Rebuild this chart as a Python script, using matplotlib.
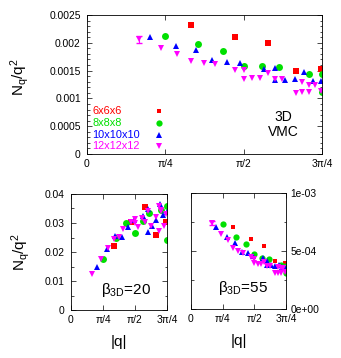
import matplotlib
matplotlib.use("Agg")
import matplotlib.pyplot as plt
from matplotlib.ticker import FixedLocator, MultipleLocator
import numpy as np

plt.rcParams['font.family'] = ['Liberation Sans', 'DejaVu Sans']
plt.rcParams['mathtext.fontset'] = 'custom'
plt.rcParams['mathtext.rm'] = 'Liberation Sans'
plt.rcParams['mathtext.it'] = 'Liberation Sans'
plt.rcParams['mathtext.default'] = 'regular'

# |q| values for each lattice size
x6 = [1.047, 1.481, 1.814, 2.094, 2.342]
x8 = [0.785, 1.111, 1.360, 1.571, 1.756, 1.924, 2.221, 2.356, 2.356]
x10 = [0.628, 0.889, 1.088, 1.257, 1.405, 1.539, 1.777, 1.885, 1.885,
       1.987, 2.084, 2.176, 2.265, 2.351]
x12 = [0.524, 0.740, 0.907, 1.047, 1.171, 1.283, 1.481, 1.571, 1.571,
       1.656, 1.737, 1.814, 1.888, 1.959, 2.094, 2.159, 2.159, 2.221,
       2.221, 2.282, 2.342]

# 3D VMC
vmc6 = [0.00232, 0.00211, 0.00200, 0.00150, 0.00152]
vmc8 = [0.00212, 0.00198, 0.00186, 0.00159, 0.00159, 0.00156, 0.00143,
        0.00143, 0.00112]
vmc10 = [0.00210, 0.00195, 0.00187, 0.00169, 0.00166, 0.00164, 0.00153,
         0.00155, 0.00133, 0.00133, 0.00135, 0.00147, 0.00132, 0.00132]
vmc12 = [0.00206, 0.00190, 0.00179, 0.00168, 0.00164, 0.00161, 0.00151,
         0.00151, 0.00135, 0.00137, 0.00137, 0.00146, 0.00135, 0.00135,
         0.00110, 0.00130, 0.00111, 0.00124, 0.00111, 0.00125, 0.00113]

# beta_3D = 20
b20_6 = [0.0221, 0.0303, 0.0354, 0.0260, 0.0305]
b20_8 = [0.0177, 0.0250, 0.0300, 0.0267, 0.0306, 0.0335, 0.0345, 0.0358, 0.0241]
b20_10 = [0.0147, 0.0209, 0.0255, 0.0251, 0.0287, 0.0310, 0.0324, 0.0347,
          0.0268, 0.0291, 0.0310, 0.0364, 0.0328, 0.0339]
b20_12 = [0.0123, 0.0176, 0.0215, 0.0245, 0.0252, 0.0278, 0.0305, 0.0315,
          0.0300, 0.0287, 0.0316, 0.0305, 0.0340, 0.0290, 0.0322, 0.0358,
          0.0272, 0.0345, 0.0340, 0.0290, 0.0330]

# beta_3D = 55
b55_6 = [7.1e-4, 6.0e-4, 5.4e-4, 4.1e-4, 4.0e-4]
b55_8 = [7.3e-4, 6.2e-4, 5.6e-4, 4.7e-4, 4.4e-4, 4.3e-4, 3.8e-4, 3.7e-4, 3.1e-4]
b55_10 = [7.1e-4, 6.2e-4, 5.7e-4, 4.9e-4, 4.8e-4, 4.6e-4, 4.4e-4, 4.1e-4,
          3.8e-4, 3.8e-4, 3.7e-4, 3.8e-4, 3.6e-4, 3.5e-4]
b55_12 = [7.4e-4, 6.5e-4, 5.95e-4, 5.3e-4, 5.0e-4, 4.85e-4, 4.45e-4, 4.3e-4,
          4.0e-4, 3.9e-4, 3.9e-4, 4.05e-4, 3.7e-4, 3.7e-4, 3.1e-4, 3.6e-4,
          3.1e-4, 3.5e-4, 3.1e-4, 3.5e-4, 3.2e-4]

labels = ['6x6x6', '8x8x8', '10x10x10', '12x12x12']
colors = ['#ff0000', '#00e000', '#0000ff', '#ff00ff']
markers = ['s', 'o', '^', 'v']
msizes = [3.9, 5.0, 4.4, 4.4]
xs = [x6, x8, x10, x12]

qticks = [0, np.pi / 4, np.pi / 2, 3 * np.pi / 4]
qlabels = ['0', 'π/4', 'π/2', '3π/4']


def style_axes(ax):
    ax.set_xlim(0, 3 * np.pi / 4)
    ax.xaxis.set_major_locator(FixedLocator(qticks))
    ax.set_xticklabels(qlabels)
    ax.tick_params(which='both', direction='in', top=True, right=True,
                   labelsize=7.4)
    ax.tick_params(axis='x', pad=3.5)
    ax.tick_params(axis='y', pad=4.5)
    ax.tick_params(which='major', length=3.5, width=0.5)
    ax.tick_params(which='minor', length=1.8, width=0.5)
    for s in ax.spines.values():
        s.set_linewidth(0.6)


def set_yaxis(ax, top, ticks, ticklabels, minor):
    ax.set_ylim(0, top)
    ax.yaxis.set_major_locator(FixedLocator(ticks))
    ax.set_yticklabels(ticklabels)
    ax.yaxis.set_minor_locator(MultipleLocator(minor))


def draw_sets(ax, ys, ms_scale=1.0):
    for x, y, c, m, ms in zip(xs, ys, colors, markers, msizes):
        ax.plot(x, y, linestyle='none', marker=m, color=c, markersize=ms * ms_scale,
                markeredgewidth=0)


def draw_key(ax, x_text, x_mark, y_top, dy):
    # gnuplot-style key: left-aligned coloured text, marker column on the right
    for i, (lab, c, m, ms) in enumerate(zip(labels, colors, markers, msizes)):
        yk = y_top - i * dy
        ax.text(x_text, yk, lab, color=c, fontsize=7.9, ha='left', va='center',
                transform=ax.transAxes)
        ax.plot([x_mark], [yk], linestyle='none', marker=m, color=c,
                markersize=ms * 0.9, markeredgewidth=0, transform=ax.transAxes,
                clip_on=False)


fig = plt.figure(figsize=(3.41, 3.58), dpi=100)

# top panel
ax1 = fig.add_axes([87 / 341, 1 - 154 / 358, 235 / 341, 139 / 358])
draw_sets(ax1, [vmc6, vmc8, vmc10, vmc12])
ax1.errorbar(x12[:1], vmc12[:1], yerr=[0.00006], fmt='none', ecolor=colors[3],
             elinewidth=0.8, capsize=2.2)
style_axes(ax1)
set_yaxis(ax1, 0.0025, [0, 0.0005, 0.001, 0.0015, 0.002, 0.0025],
          ['0', '0.0005', '0.001', '0.0015', '0.002', '0.0025'], 0.0001)
ax1.set_ylabel(r'$N_q/q^2$', fontsize=11)
ax1.yaxis.set_label_coords(-0.238, 0.55)
ax1.text(0.835, 0.21, '3D\nVMC', transform=ax1.transAxes, ha='center',
         va='center', fontsize=10, linespacing=1.1)
draw_key(ax1, 0.024, 0.306, 0.312, 0.086)

# bottom left panel
ax2 = fig.add_axes([71 / 341, 1 - 310 / 358, 96 / 341, 116 / 358])
draw_sets(ax2, [b20_6, b20_8, b20_10, b20_12])
style_axes(ax2)
set_yaxis(ax2, 0.04, [0, 0.01, 0.02, 0.03, 0.04],
          ['0', '0.01', '0.02', '0.03', '0.04'], 0.005)
ax2.set_ylabel(r'$N_q/q^2$', fontsize=11)
ax2.yaxis.set_label_coords(-0.41, 0.5)
ax2.set_xlabel('|q|', fontsize=11, labelpad=7)
ax2.text(0.57, 0.17, r'$\beta_{3D}$=20', transform=ax2.transAxes,
         ha='center', va='center', fontsize=11)

# bottom right panel
ax3 = fig.add_axes([191 / 341, 1 - 309 / 358, 95 / 341, 116 / 358])
draw_sets(ax3, [b55_6, b55_8, b55_10, b55_12], ms_scale=0.9)
ax3.errorbar(x12[:1], b55_12[:1], yerr=[0.00002], fmt='none', ecolor=colors[3],
             elinewidth=0.8, capsize=2.0)
style_axes(ax3)
set_yaxis(ax3, 0.001, [0, 0.0005, 0.001], ['0e+00', '5e-04', '1e-03'], 0.00025)
ax3.yaxis.tick_right()
ax3.tick_params(which='both', direction='in', left=True, right=True)
ax3.tick_params(axis='y', pad=3)
ax3.set_xlabel('|q|', fontsize=11, labelpad=7)
ax3.text(0.55, 0.18, r'$\beta_{3D}$=55', transform=ax3.transAxes,
         ha='center', va='center', fontsize=11)

fig.savefig('out.png', dpi=100)
